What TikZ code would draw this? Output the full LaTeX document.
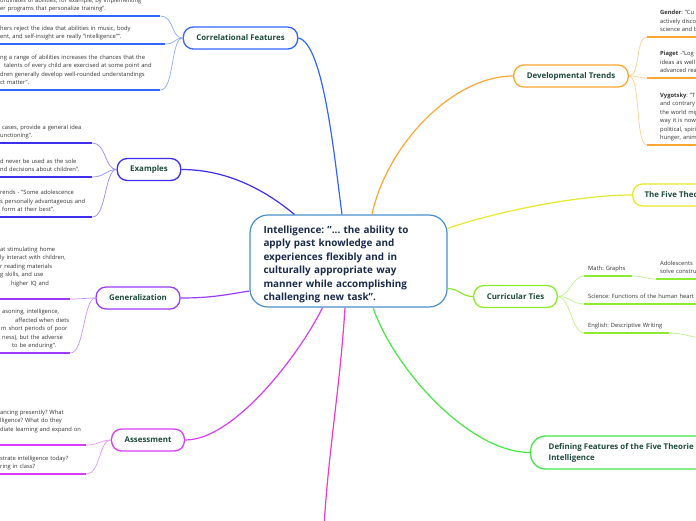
\documentclass[tikz,border=0pt]{standalone}
\usepackage{fontspec}
\setmainfont{Open Sans}
\usepackage{xcolor}
\frenchspacing

\definecolor{hubblue}{HTML}{4A90CF}
\definecolor{hubtext}{HTML}{1A2B4C}
\definecolor{labelgreen}{HTML}{1E4B3E}
\definecolor{leafgray}{HTML}{333333}
\definecolor{cfblue}{HTML}{3366FF}
\definecolor{exblue}{HTML}{3D2EF0}
\definecolor{genpurple}{HTML}{9B3BFF}
\definecolor{asmagenta}{HTML}{D83CF6}
\definecolor{offpink}{HTML}{F03ACB}
\definecolor{dvorange}{HTML}{FFA733}
\definecolor{ftyellow}{HTML}{E8E82A}
\definecolor{ctgreen}{HTML}{8CEB2E}
\definecolor{dfgreen}{HTML}{45E845}

\begin{document}
\begin{tikzpicture}[x=1pt, y=-1pt,
  hub/.style={rectangle, rounded corners=18pt, draw=hubblue, line width=1.2pt, fill=white,
              text width=170pt, minimum height=92pt, inner xsep=13.5pt, align=left,
              text=hubtext, font=\bfseries\fontsize{9.9}{13.5}\selectfont},
  topic/.style={rectangle, rounded corners=10pt, line width=1.3pt, fill=white,
                minimum height=22pt, inner xsep=13pt, text=labelgreen,
                font=\bfseries\fontsize{7.9}{8}\selectfont},
  leaf/.style={anchor=south west, inner xsep=0pt, inner ysep=2.5pt, align=left,
               text=leafgray, font=\fontsize{5.8}{8.5}\selectfont, execute at end node=\strut},
  uline/.style={line width=1.8pt},
  link/.style={line width=1.2pt},
  twig/.style={line width=0.7pt}
]
  \useasboundingbox (0,0) rectangle (696,520);
  \fill[white] (0,0) rectangle (696,520);
  \clip (0,0) rectangle (696,520);

  \node[hub] (ctr) at (348.5,261) {\rule{0pt}{14pt}Intelligence: "... the ability to\\ apply past knowledge and\\ experiences flexibly and in\\ culturally appropriate way\\ manner while accomplishing\\ challenging new task".};

  \node[topic, draw=cfblue]    (cf)  at (240.5,38)  {Correlational Features};
  \node[topic, draw=exblue]    (ex)  at (149,169.5) {Examples};
  \node[topic, draw=genpurple] (gen) at (138,298)   {Generalization};
  \node[topic, draw=asmagenta] (as)  at (148,440)   {Assessment};
  \node[topic, draw=dvorange]  (dv)  at (571,76)    {Developmental Trends};
  \node[topic, draw=ftyellow, anchor=west, inner xsep=12pt] (ft) at (632,195) {The Five Theo};
  \node[topic, draw=ctgreen]   (ct)  at (515.5,296.5) {Curricular Ties};
  \node[topic, draw=dfgreen, anchor=west, align=left, rounded corners=15pt, minimum height=33pt,
        inner xsep=18pt, font=\bfseries\fontsize{7.9}{11}\selectfont] (df) at (530,452.5)
        {Defining Features of the Five Theorie\\Intelligence};
  \coordinate (offb) at (324,526);

  \draw[link, cfblue]    (cf.east) .. controls +(25,5) and +(-8,-60) .. ([xshift=-6.5pt]ctr.north);
  \draw[link, exblue]    (ex.east) .. controls +(45,0) and +(-30,-25) .. ([xshift=45pt]ctr.north west);
  \draw[link, genpurple] (gen.east) .. controls +(30,0) and +(-25,4) .. ([yshift=-30pt]ctr.west);
  \draw[link, asmagenta] (as.east) .. controls +(50,0) and +(-22,45) .. ([xshift=-26pt]ctr.south);
  \draw[link, offpink]   ([xshift=-3.5pt]ctr.south) .. controls +(-5,80) and +(5,-80) .. (offb);
  \draw[link, dfgreen]   ([xshift=24.5pt]ctr.south) .. controls +(22,63) and +(-60,0) .. (df.west);
  \draw[link, dvorange]  ([xshift=23.5pt]ctr.north) .. controls +(15,-70) and +(-60,0) .. (dv.west);
  \draw[link, ftyellow]  ([yshift=-14pt]ctr.north east) .. controls +(40,-14) and +(-60,0) .. (ft.west);
  \draw[link, ctgreen]   ([yshift=19pt]ctr.south east) .. controls +(12,0) and +(-12,0) .. (ct.west);

  \node[leaf, text width=160pt] (cf1) at (0,16) {ordinates of abilities, for example, by implementing\\er programs that personalize training".};
  \node[leaf, text width=165pt] (cf2) at (0,44) {hers reject the idea that abilities in music, body\\ent, and self-insight are really "intelligence"".};
  \node[leaf, text width=160pt] (cf3) at (0,90) {ng a range of abilities increases the chances that the\\\hspace*{4pt}talents of every child are exercised at some point and\\dren generally develop well-rounded understandings\\ct matter".};
  \draw[uline, cfblue] (cf1.south west) -- (cf1.south east);
  \draw[uline, cfblue] (cf2.south west) -- (cf2.south east);
  \draw[uline, cfblue] (cf3.south west) -- (cf3.south east);
  \draw[twig, cfblue!55] (cf1.south east) .. controls +(14,0) and +(-12,0) .. (cf.west);
  \draw[twig, cfblue!55] (cf2.south east) .. controls +(10,0) and +(-8,0) .. (cf.west);
  \draw[twig, cfblue!55] (cf3.south east) .. controls +(14,0) and +(-12,0) .. (cf.west);

  \node[leaf, text width=92pt] (ex1) at (0,143) {\hspace*{2pt}cases, provide a general idea\\unctioning".};
  \node[leaf, text width=92pt] (ex2) at (0,177) {d never be used as the sole\\nd decisions about children".};
  \node[leaf, text width=92pt] (ex3) at (0,217) {rends - "Some adolescence\\s personally advantageous and\\\hspace*{2pt}form at their best".};
  \draw[uline, exblue] (ex1.south west) -- (ex1.south east);
  \draw[uline, exblue] (ex2.south west) -- (ex2.south east);
  \draw[uline, exblue] (ex3.south west) -- (ex3.south east);
  \draw[twig, exblue!55] (ex1.south east) .. controls +(14,0) and +(-12,0) .. (ex.west);
  \draw[twig, exblue!55] (ex2.south east) .. controls +(12,0) and +(-10,0) .. (ex.west);
  \draw[twig, exblue!55] (ex3.south east) .. controls +(14,0) and +(-12,0) .. (ex.west);

  \node[leaf, text width=70pt] (gen1) at (0,299) {at stimulating home\\ly interact with children,\\r reading materials\\g skills, and use\\\hspace*{11pt}higher IQ and\\\mbox{}};
  \node[leaf, text width=70pt] (gen2) at (0,353) {\hspace*{2pt}asoning, intelligence,\\\mbox{\hspace*{15pt}affected when diets}\\\hspace*{1pt}m short periods of poor\\\hspace*{2pt}ness), but the adverse\\\hspace*{12pt}to be enduring".};
  \draw[uline, genpurple] (gen1.south west) -- (gen1.south east);
  \draw[uline, genpurple] (gen2.south west) -- (gen2.south east);
  \draw[twig, genpurple!55] (gen1.south east) .. controls +(12,0) and +(-10,0) .. (gen.west);
  \draw[twig, genpurple!55] (gen2.south east) .. controls +(14,0) and +(-12,0) .. (gen.west);

  \node[leaf, text width=86pt] (as1) at (0,445) {ancing presently? What\\lligence? What do they\\diate learning and expand on\\\mbox{}};
  \node[leaf, text width=86pt] (as2) at (0,474) {strate intelligence today?\\ring in class?};
  \draw[uline, asmagenta] (as1.south west) -- (as1.south east);
  \draw[uline, asmagenta] (as2.south west) -- (as2.south east);
  \draw[twig, asmagenta!55] (as1.south east) .. controls +(12,0) and +(-10,0) .. (as.west);
  \draw[twig, asmagenta!55] (as2.south east) .. controls +(14,0) and +(-12,0) .. (as.west);

  \node[leaf, text width=60pt] (dv1) at (660,37)  {\textbf{Gender}: "Cu\\actively disco\\science and b};
  \node[leaf, text width=60pt] (dv2) at (660,78)  {\textbf{Piaget} -"Log\\ideas as well\\advanced rea};
  \node[leaf, text width=60pt] (dv3) at (660,145) {\textbf{Vygotsky}: "T\\and contrary\\the world mig\\way it is now.\\political, spiri\\hunger, anim};
  \draw[uline, dvorange] ([xshift=-13pt]dv1.south west) -- (dv1.south east);
  \draw[uline, dvorange] ([xshift=-13pt]dv2.south west) -- (dv2.south east);
  \draw[uline, dvorange] ([xshift=-13pt]dv3.south west) -- (dv3.south east);
  \draw[twig, dvorange!55] (dv.east) .. controls +(12,0) and +(-12,0) .. ([xshift=-13pt]dv1.south west);
  \draw[twig, dvorange!55] (dv.east) .. controls +(10,0) and +(-8,0) .. ([xshift=-13pt]dv2.south west);
  \draw[twig, dvorange!55] (dv.east) .. controls +(12,0) and +(-12,0) .. ([xshift=-13pt]dv3.south west);

  \node[leaf, text width=44pt]  (ct1)  at (588,276) {Math: Graphs};
  \node[leaf, text width=40pt]  (ct1a) at (660,279) {Adolescents\\solve constru};
  \node[leaf, text width=130pt] (ct2)  at (588,304) {Science: Functions of the human heart};
  \node[leaf, text width=81pt]  (ct3)  at (588,333) {English: Descriptive Writing};
  \coordinate (offe) at (706,338);
  \draw[uline, ctgreen] ([xshift=-4pt]ct1.south west) -- (ct1.south east);
  \draw[uline, ctgreen] ([xshift=-4pt]ct1a.south west) -- (ct1a.south east);
  \draw[uline, ctgreen] ([xshift=-4pt]ct2.south west) -- (ct2.south east);
  \draw[uline, ctgreen] ([xshift=-4pt]ct3.south west) -- (ct3.south east);
  \draw[twig, ctgreen!55] (ct.east) .. controls +(12,0) and +(-12,0) .. ([xshift=-4pt]ct1.south west);
  \draw[twig, ctgreen!55] (ct.east) .. controls +(12,0) and +(-12,0) .. ([xshift=-4pt]ct2.south west);
  \draw[twig, ctgreen!55] (ct.east) .. controls +(12,0) and +(-12,0) .. ([xshift=-4pt]ct3.south west);
  \draw[twig, ctgreen!55] (ct1.south east) .. controls +(12,0) and +(-12,0) .. ([xshift=-4pt]ct1a.south west);
  \draw[twig, ctgreen!55] (ct3.south east) .. controls +(14,0) and +(-14,0) .. (offe);
\end{tikzpicture}
\end{document}
